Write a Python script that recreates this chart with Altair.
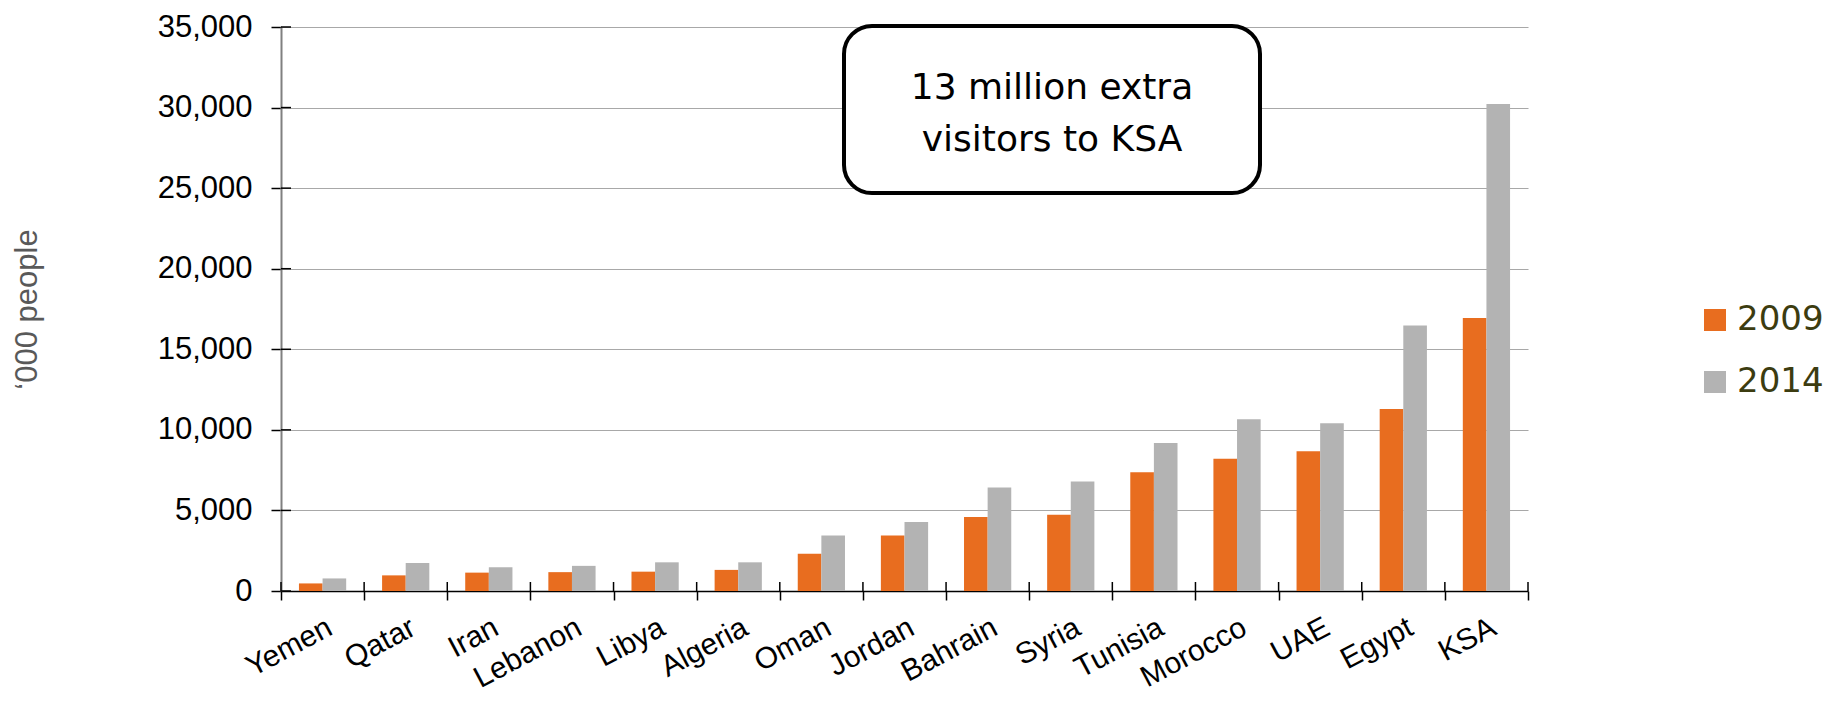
import altair as alt
import pandas as pd

countries = ["Yemen", "Qatar", "Iran", "Lebanon", "Libya", "Algeria", "Oman", "Jordan",
             "Bahrain", "Syria", "Tunisia", "Morocco", "UAE", "Egypt", "KSA"]
v2009 = [470, 970, 1140, 1170, 1200, 1310, 2310, 3450, 4590, 4730, 7370, 8210, 8680, 11300, 16940]
v2014 = [780, 1730, 1470, 1560, 1780, 1780, 3450, 4280, 6430, 6790, 9180, 10660, 10410, 16470, 30220]
years = ["2009", "2014"]
colors = ["#E86D1F", "#B3B3B3"]
y_ticks = [0, 5000, 10000, 15000, 20000, 25000, 30000, 35000]
note_lines = ["13 million extra", "visitors to KSA"]

rows = []
for c, a, b in zip(countries, v2009, v2014):
    rows.append({"country": c, "year": years[0], "value": a})
    rows.append({"country": c, "year": years[1], "value": b})
df = pd.DataFrame(rows)

W, H = 1247, 564

x_enc = alt.X("country:N", sort=countries, title=None,
              scale=alt.Scale(paddingInner=0, paddingOuter=0),
              axis=alt.Axis(labelAngle=-28, labelFontSize=30, labelFont="Liberation Sans",
                            labelColor="#000000", tickBand="extent", tickSize=9,
                            tickColor="#000000", tickWidth=1.5, domainColor="#000000",
                            domainWidth=1.5, labelPadding=12, labelAlign="right",
                            labelBaseline="top", grid=False))

bars = alt.Chart(df).mark_bar().encode(
    x=x_enc,
    xOffset=alt.XOffset("year:N", scale=alt.Scale(paddingOuter=0.76, paddingInner=0)),
    y=alt.Y("value:Q", title="\u2018000 people",
            scale=alt.Scale(domain=[0, 35000], nice=False),
            axis=alt.Axis(values=y_ticks, format=",.0f", labelFontSize=31,
                          labelFont="Liberation Sans", labelColor="#000000",
                          titleFontSize=31, titleFont="Liberation Sans",
                          titleFontWeight="normal", titleColor="#595959",
                          titlePadding=114, tickSize=10, tickColor="#000000",
                          tickWidth=1.5, domainColor="#808080", domainWidth=2,
                          labelPadding=19, gridColor="#a8a8a8", gridWidth=1.2)),
    color=alt.Color("year:N", scale=alt.Scale(domain=years, range=colors),
                    legend=alt.Legend(title=None, orient="none", legendX=1417, legendY=276,
                                      symbolType="square", symbolSize=484,
                                      symbolStrokeWidth=0, labelFontSize=34,
                                      labelFont="DejaVu Sans", labelColor="#3c3c10",
                                      labelOffset=5, rowPadding=28, padding=0)),
)

# inward halves of the crossing tick marks
ytick_df = pd.DataFrame({"v": y_ticks})
yticks_in = alt.Chart(ytick_df).mark_rule(color="#000000", strokeWidth=1.5).encode(
    y=alt.Y("v:Q"), x=alt.value(0), x2=alt.value(10)
)
cdf = pd.DataFrame({"country": countries})
xticks_in = alt.Chart(cdf).mark_rule(color="#000000", strokeWidth=1.5).encode(
    x=alt.X("country:N", sort=countries, bandPosition=0),
    y=alt.value(H - 9), y2=alt.value(H)
)
last_df = pd.DataFrame({"country": countries[-1:]})
xtick_end = alt.Chart(last_df).mark_rule(color="#000000", strokeWidth=1.5).encode(
    x=alt.X("country:N", sort=countries, bandPosition=1),
    y=alt.value(H - 9), y2=alt.value(H)
)

box = alt.Chart(pd.DataFrame({"t": [0]})).mark_rect(
    fill="white", stroke="#000000", strokeWidth=4, cornerRadius=28
).encode(
    x=alt.value(563), x2=alt.value(979), y=alt.value(-1), y2=alt.value(166)
)

note = alt.Chart(pd.DataFrame({"t": [note_lines]})).mark_text(
    fontSize=36, font="DejaVu Sans", color="#000000", lineHeight=52,
    align="center", baseline="middle"
).encode(
    text="t", x=alt.value(771), y=alt.value(61)
)

chart = alt.layer(bars, yticks_in, xticks_in, xtick_end, box, note).properties(
    width=W, height=H,
    autosize=alt.AutoSizeParams(type="none"),
    padding={"left": 273, "top": 19, "right": 298, "bottom": 104},
).configure_view(stroke=None)

chart.save("out.html", embed_options={"renderer": "svg", "actions": False})
